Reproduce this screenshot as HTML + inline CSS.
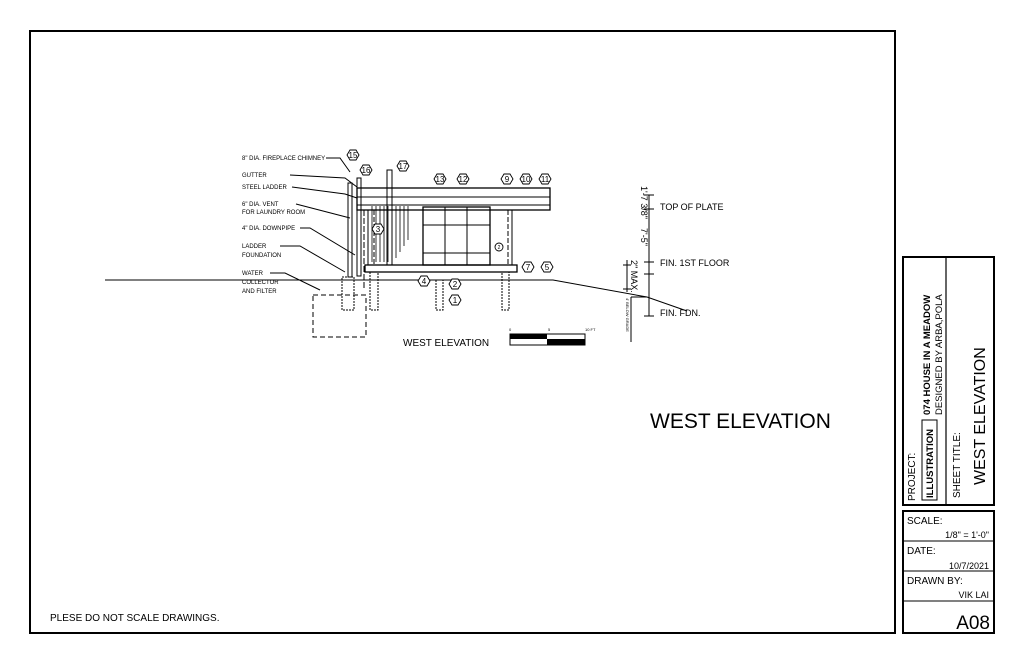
<!DOCTYPE html>
<html><head><meta charset="utf-8"><style>
body{margin:0;background:#fff;width:1024px;height:663px;overflow:hidden}
svg{display:block}
text{font-family:"Liberation Sans",sans-serif;fill:#000}
</style></head><body>
<svg width="1024" height="663" viewBox="0 0 1024 663">
<rect x="0" y="0" width="1024" height="663" fill="#fff"/>
<rect x="30" y="31" width="865" height="602" fill="none" stroke="#000" stroke-width="2"/>
<!-- title block -->
<rect x="903" y="257" width="91" height="248" fill="none" stroke="#000" stroke-width="2"/>
<line x1="946" y1="257" x2="946" y2="505" stroke="#000" stroke-width="1.2"/>
<rect x="903" y="511" width="91" height="122" fill="none" stroke="#000" stroke-width="2"/>
<line x1="903" y1="541" x2="994" y2="541" stroke="#000"/>
<line x1="903" y1="571" x2="994" y2="571" stroke="#000"/>
<line x1="903" y1="601" x2="994" y2="601" stroke="#000"/>
<text x="915" y="501" font-size="10" transform="rotate(-90 915 501)">PROJECT:</text>
<rect x="922" y="420" width="15" height="80" fill="none" stroke="#000" stroke-width="1"/>
<text x="933" y="498" font-size="9.5" font-weight="bold" transform="rotate(-90 933 498)">ILLUSTRATION</text>
<text x="930" y="415" font-size="9.5" font-weight="bold" transform="rotate(-90 930 415)">074 HOUSE IN A MEADOW</text>
<text x="942" y="415" font-size="9.5" transform="rotate(-90 942 415)">DESIGNED BY ARBA,POLA</text>
<text x="960" y="498" font-size="10" transform="rotate(-90 960 498)">SHEET TITLE:</text>
<text x="985" y="485" font-size="16" transform="rotate(-90 985 485)">WEST ELEVATION</text>
<text x="907" y="524" font-size="10">SCALE:</text>
<text x="989" y="538" font-size="9" text-anchor="end">1/8" = 1'-0"</text>
<text x="907" y="554" font-size="10">DATE:</text>
<text x="989" y="569" font-size="9" text-anchor="end">10/7/2021</text>
<text x="907" y="584" font-size="10">DRAWN BY:</text>
<text x="989" y="598" font-size="9" text-anchor="end">VIK LAI</text>
<text x="990" y="629" font-size="19" text-anchor="end">A08</text>
<text x="650" y="428" font-size="21">WEST ELEVATION</text>
<text x="50" y="621" font-size="10">PLESE DO NOT SCALE DRAWINGS.</text>
<!-- drawing -->
<g stroke="#000" fill="none" stroke-width="1">
<polyline points="105,280 553,280 647,297 687,311"/>
<rect x="357" y="188" width="193" height="22" stroke-width="1.3"/>
<line x1="357" y1="197" x2="550" y2="197"/>
<line x1="357" y1="205" x2="550" y2="205"/>
<rect x="368" y="210" width="144" height="55"/>
<line x1="508" y1="210" x2="508" y2="265" stroke-dasharray="5,2"/>
<line x1="374" y1="210" x2="374" y2="265" stroke-dasharray="5,2"/>
<rect x="423" y="207" width="67" height="58" stroke-width="1.3"/>
<line x1="445" y1="207" x2="445" y2="265"/><line x1="467" y1="207" x2="467" y2="265"/>
<line x1="423" y1="225" x2="490" y2="225"/><line x1="423" y1="253" x2="490" y2="253"/>
<g stroke-width="0.8">
<line x1="372" y1="206" x2="372" y2="262"/><line x1="376" y1="206" x2="376" y2="262"/><line x1="380" y1="206" x2="380" y2="262"/><line x1="384" y1="206" x2="384" y2="262"/><line x1="388" y1="206" x2="388" y2="262"/><line x1="396" y1="206" x2="396" y2="258"/><line x1="400" y1="206" x2="400" y2="252"/><line x1="404" y1="206" x2="404" y2="246"/><line x1="408" y1="206" x2="408" y2="240"/>
</g>
<rect x="365" y="265" width="152" height="7" stroke-width="1.3"/>
<rect x="370" y="272" width="8" height="38" stroke-dasharray="2,1"/>
<rect x="436" y="280" width="7" height="30" stroke-dasharray="2,1"/>
<rect x="502" y="272" width="7" height="38" stroke-dasharray="2,1"/>
<rect x="387" y="170" width="5" height="95"/>
<rect x="348" y="183" width="4" height="94"/>
<rect x="357" y="178" width="4" height="98"/>
<rect x="313" y="295" width="53" height="42" stroke-dasharray="5,3"/>
<rect x="342" y="277" width="12" height="33" stroke-dasharray="2,1"/>
<line x1="364" y1="210" x2="364" y2="290" stroke-dasharray="6,2"/>
<!-- leaders -->
<polyline points="326,158 340,158 350,172"/>
<polyline points="290,175 345,178 357,187"/>
<polyline points="292,187 345,194 357,198"/>
<polyline points="296,204 350,218"/>
<polyline points="300,228 310,228 355,255"/>
<polyline points="280,246 300,246 345,272"/>
<polyline points="270,273 285,273 320,290"/>
<!-- dimensions -->
<line x1="649" y1="195" x2="649" y2="316"/>
<line x1="644" y1="195" x2="654" y2="195"/><line x1="644" y1="209" x2="654" y2="209"/>
<line x1="644" y1="262" x2="654" y2="262"/><line x1="644" y1="274" x2="654" y2="274"/>
<line x1="644" y1="316" x2="654" y2="316"/>
<line x1="627" y1="260" x2="627" y2="292"/>
<line x1="623" y1="265" x2="631" y2="265"/><line x1="623" y1="289" x2="631" y2="289"/>
<line x1="631" y1="297" x2="631" y2="342"/>
<line x1="631" y1="297" x2="647" y2="297"/>
</g>
<g font-size="6">
<text x="242" y="160">8" DIA. FIREPLACE CHIMNEY</text>
<text x="242" y="177">GUTTER</text>
<text x="242" y="189">STEEL LADDER</text>
<text x="242" y="206">6" DIA. VENT</text>
<text x="242" y="214">FOR LAUNDRY ROOM</text>
<text x="242" y="230">4" DIA. DOWNPIPE</text>
<text x="242" y="248">LADDER</text>
<text x="242" y="257">FOUNDATION</text>
<text x="242" y="275">WATER</text>
<text x="242" y="284">COLLECTOR</text>
<text x="242" y="293">AND FILTER</text>
</g>
<g font-size="9">
<text x="660" y="210">TOP OF PLATE</text>
<text x="660" y="266">FIN. 1ST FLOOR</text>
<text x="660" y="316">FIN. FDN.</text>
<text x="641" y="186" transform="rotate(90 641 186)">1'-7 3/8"</text>
<text x="641" y="228" transform="rotate(90 641 228)">7'-5"</text>
<text x="631" y="260" transform="rotate(90 631 260)">2" MAX.</text>
</g>
<text x="626" y="298" font-size="4" transform="rotate(90 626 298)">4' BELOW GRADE</text>
<!-- scale bar -->
<rect x="510" y="334" width="75" height="11" fill="none" stroke="#000"/>
<rect x="510" y="334" width="37" height="5" fill="#000"/>
<rect x="547" y="339" width="38" height="6" fill="#000"/>
<text x="509" y="331" font-size="4">0</text><text x="548" y="331" font-size="4">5</text><text x="585" y="331" font-size="4">10 FT</text>
<text x="403" y="346" font-size="10">WEST ELEVATION</text>
<!-- hexagon callouts -->
<g fill="#fff" stroke="#000" stroke-width="0.9">
<polygon points="347,155 350,150 356,150 359,155 356,160 350,160"/>
<polygon points="360,170 363,165 369,165 372,170 369,175 363,175"/>
<polygon points="397,166 400,161 406,161 409,166 406,171 400,171"/>
<polygon points="434,179 437,174 443,174 446,179 443,184 437,184"/>
<polygon points="457,179 460,174 466,174 469,179 466,184 460,184"/>
<polygon points="501,179 504,174 510,174 513,179 510,184 504,184"/>
<polygon points="520,179 523,174 529,174 532,179 529,184 523,184"/>
<polygon points="539,179 542,174 548,174 551,179 548,184 542,184"/>
<polygon points="372,229 375,224 381,224 384,229 381,234 375,234"/>
<polygon points="522,267 525,262 531,262 534,267 531,272 525,272"/>
<polygon points="541,267 544,262 550,262 553,267 550,272 544,272"/>
<polygon points="418,281 421,276 427,276 430,281 427,286 421,286"/>
<polygon points="449,284 452,279 458,279 461,284 458,289 452,289"/>
<polygon points="449,300 452,295 458,295 461,300 458,305 452,305"/>
<circle cx="499" cy="247" r="4"/>
</g>
<g font-size="8" text-anchor="middle">
<text x="353" y="158">15</text><text x="366" y="173">16</text><text x="403" y="169">17</text>
<text x="440" y="182">13</text><text x="463" y="182">12</text><text x="507" y="182">9</text>
<text x="526" y="182">10</text><text x="545" y="182">11</text><text x="378" y="232">3</text>
<text x="528" y="270">7</text><text x="547" y="270">5</text><text x="424" y="284">4</text>
<text x="455" y="287">2</text><text x="455" y="303">1</text>
<text x="499" y="249" font-size="5">2</text>
</g>
</svg>
</body></html>
